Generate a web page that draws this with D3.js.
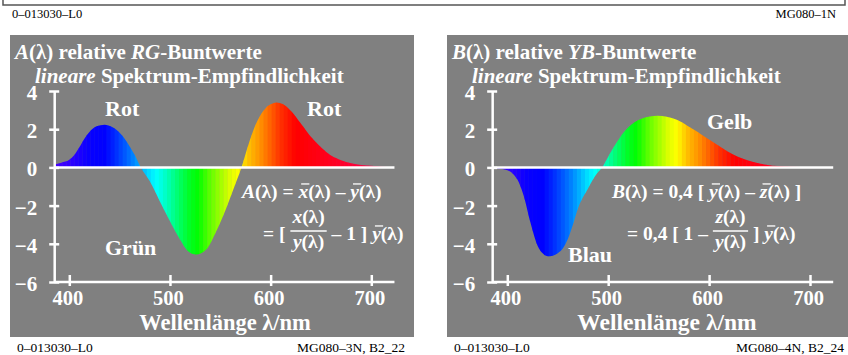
<!DOCTYPE html>
<html><head><meta charset="utf-8">
<script src="https://cdn.jsdelivr.net/npm/d3@7"></script>
<style>
html,body{margin:0;padding:0;background:#fff;}
svg{display:block;font-family:"Liberation Serif","Times New Roman",serif;}
text{white-space:pre;}
</style></head>
<body>
<script>
// ---------- data ----------
const lambdaA = [385,392,400,405,410,415,420,427,435,443,450,455,460,465,471,480,490,500,510,518,526,536,546,556,566,571,578,584,590,595,600,606,612,620,630,640,650,660,670,680,690,700,710,722];
const valuesA = [0.15,0.25,0.4,0.65,1.05,1.5,1.85,2.15,2.23,2.1,1.82,1.5,1.1,0.65,0,-0.72,-1.78,-2.82,-3.78,-4.39,-4.56,-4.3,-3.34,-2.12,-0.73,0,1.2,2.1,2.75,3.1,3.3,3.4,3.32,2.97,2.3,1.6,1.05,0.62,0.38,0.22,0.13,0.08,0.04,0.02];
const lambdaB = [385,395,400,405,410,416,423,430,435,440,445,450,455,460,465,470,480,489,494,502,509,516,523,530,540,549,558,568,578,588,598,608,618,628,638,648,658,668,680,700,722];
const valuesB = [-0.05,-0.08,-0.15,-0.3,-0.64,-1.45,-2.9,-4.1,-4.5,-4.65,-4.62,-4.5,-4.25,-3.75,-3.0,-2.15,-1.1,-0.3,0,0.75,1.35,1.88,2.25,2.48,2.65,2.7,2.65,2.49,2.2,1.88,1.52,1.18,0.85,0.57,0.37,0.23,0.13,0.07,0.03,0.01,0.0];
const spectrumLambda = [380,400,420,435,445,455,463,470,478,486,494,502,510,520,528,540,550,560,568,578,590,600,610,625,660,700,730];
const spectrumColor = ["#5000ff","#3000ff","#0800ff","#0000ff","#0028ff","#0058ff","#0080ff","#00a8ff","#00d8ff","#00ffff","#00ffd0","#00ff98","#00ff60","#00ff20","#00ff00","#60ff00","#a0ff00","#e0ff00","#ffff00","#ffc000","#ff9000","#ff6000","#ff3000","#ff0000","#ff0020","#ff0048","#ff0060"];
const xTicks = [400,500,600,700];
const yTicks = [-6,-4,-2,0,2,4];

const W = 848, H = 355;
const svg = d3.select("body").append("svg").attr("width", W).attr("height", H);
svg.append("rect").attr("width", W).attr("height", H).attr("fill", "#fff");

// top frame and header text
svg.append("path").attr("d", "M3,-2 V5 H845 V-2").attr("fill", "none").attr("stroke", "#555").attr("stroke-width", 1.5);
svg.append("text").attr("x", 12).attr("y", 18).attr("font-size", 12.5).text("0\u2013013030\u2013L0");
svg.append("text").attr("x", 836).attr("y", 18).attr("font-size", 12.5).attr("text-anchor", "end").text("MG080\u20131N");

const colorScale = d3.scaleLinear().domain(spectrumLambda).range(spectrumColor).interpolate(d3.interpolateRgb).clamp(true);

function rich(g, x, y, parts, fs) {
  let cx = x;
  parts.forEach(p => {
    const f = p.fs || fs;
    const t = g.append("text").attr("x", cx).attr("y", y + (p.dy || 0))
      .attr("xml:space", "preserve")
      .attr("font-size", f).attr("font-weight", p.nb ? "normal" : "bold")
      .attr("font-style", p.it ? "italic" : "normal").attr("fill", "#fff").text(p.t);
    const w = t.node().getComputedTextLength();
    if (p.bar) {
      g.append("line").attr("x1", cx + f * 0.14).attr("x2", cx + f * 0.14 + f * 0.42)
        .attr("y1", y - f * 0.72).attr("y2", y - f * 0.72).attr("stroke", "#fff").attr("stroke-width", 1.3);
    }
    cx += w;
  });
  return cx;
}
function fraction(g, x, yBase, num, den, fs) {
  const gn = g.append("g"), gd = g.append("g");
  const wn = rich(gn, 0, 0, num, fs), wd = rich(gd, 0, 0, den, fs);
  const w = Math.max(wn, wd) + 4;
  gn.attr("transform", `translate(${x + (w - wn) / 2},${yBase - 17})`);
  gd.attr("transform", `translate(${x + (w - wd) / 2},${yBase + 8})`);
  g.append("line").attr("x1", x).attr("x2", x + w).attr("y1", yBase - 9).attr("y2", yBase - 9)
    .attr("stroke", "#fff").attr("stroke-width", 1.6);
  return x + w;
}

function panel(cfg) {
  const g = svg.append("g");
  g.append("rect").attr("x", cfg.px).attr("y", 35).attr("width", 404).attr("height", 302).attr("fill", "#808080");
  const x = d3.scaleLinear().domain([400, 700]).range(cfg.xr);
  const y = d3.scaleLinear().domain([-6, 4]).range([282, 91]);
  const x0 = x(385), x1 = x(723);

  // stripes clipped by area
  const area = d3.area().x((d, i) => x(cfg.lambda[i])).y0(y(0)).y1(d => y(d)).curve(d3.curveMonotoneX);
  g.append("clipPath").attr("id", cfg.id).append("path").attr("d", area(cfg.values));
  const bands = d3.range(385, 723, 4);
  g.append("g").attr("clip-path", `url(#${cfg.id})`).selectAll("rect").data(bands).join("rect")
    .attr("x", d => x(d)).attr("width", d => x(d + 4) - x(d) + 0.4)
    .attr("y", y(4)).attr("height", y(-6) - y(4))
    .attr("fill", d => colorScale(d + 2));

  // zero line
  g.append("line").attr("x1", x0).attr("x2", x1).attr("y1", y(0)).attr("y2", y(0))
    .attr("stroke", "#fff").attr("stroke-width", 2.5);

  // axes
  const ya = g.append("g").attr("transform", `translate(${x0},0)`)
    .call(d3.axisLeft(y).tickValues(yTicks).tickSizeOuter(0).tickFormat(d3.format("d")));
  ya.select(".domain").attr("stroke", "#fff").attr("stroke-width", 2.5);
  ya.selectAll(".tick line").attr("x1", 5).attr("x2", -5).attr("stroke", "#fff").attr("stroke-width", 2.5);
  ya.selectAll(".tick text").attr("x", -17).attr("dy", "0.4em").attr("fill", "#fff")
    .attr("font-size", 21).attr("font-weight", "bold").attr("font-family", "Liberation Serif");

  const xa = g.append("g").attr("transform", `translate(0,${y(-6)})`)
    .call(d3.axisBottom(x).tickValues(xTicks).tickSizeOuter(0).tickFormat(d3.format("d")));
  xa.select(".domain").attr("d", `M${x0},0H${x1}`).attr("stroke", "#fff").attr("stroke-width", 2.5);
  xa.selectAll(".tick line").attr("y1", -7).attr("y2", 4).attr("stroke", "#fff").attr("stroke-width", 2.5);
  xa.selectAll(".tick text").attr("y", 22.5).attr("dy", 0).attr("x", -2).attr("fill", "#fff")
    .attr("font-size", 20.5).attr("font-weight", "bold").attr("font-family", "Liberation Serif");

  // titles
  rich(g, cfg.px + 5, 59, cfg.title1, 21);
  rich(g, cfg.px + 25, 83, cfg.title2, 21);
  g.append("text").attr("x", cfg.axisTitleX).attr("y", 330).attr("text-anchor", "middle")
    .attr("font-size", cfg.axisTitleFs).attr("font-weight", "bold").attr("fill", "#fff")
    .text("Wellenl\u00e4nge \u03bb/nm");
  cfg.labels.forEach(l => g.append("text").attr("x", l.x).attr("y", l.y).attr("font-size", 22)
    .attr("font-weight", "bold").attr("fill", "#fff").text(l.t));
  cfg.formula(g);

  // footer
  g.append("text").attr("x", cfg.px + 7).attr("y", 352).attr("font-size", 13.5).text("0\u2013013030\u2013L0");
  g.append("text").attr("x", cfg.footR).attr("y", 352).attr("font-size", 13.5).attr("text-anchor", "end").text(cfg.footer);
}

const FS = 19.5;
panel({
  id: "clipA", px: 10, xr: [69.3, 371.3], lambda: lambdaA, values: valuesA,
  title1: [{t: "A", it: true}, {t: "(\u03bb) relative "}, {t: "RG", it: true}, {t: "-Buntwerte"}],
  title2: [{t: "lineare", it: true}, {t: " Spektrum-Empfindlichkeit"}],
  axisTitleX: 225, axisTitleFs: 22.5,
  labels: [{t: "Rot", x: 105, y: 116}, {t: "Rot", x: 307, y: 116}, {t: "Gr\u00fcn", x: 105, y: 255}],
  footR: 405, footer: "MG080\u20133N, B2_22",
  formula: g => {
    rich(g, 242, 198, [{t: "A", it: true}, {t: "(\u03bb) = "}, {t: "x", it: true, bar: true}, {t: "(\u03bb) \u2013 "}, {t: "y", it: true, bar: true}, {t: "(\u03bb)"}], FS);
    let cx = rich(g, 263, 240, [{t: "="}, {t: " [ "}], FS);
    cx = fraction(g, cx, 240, [{t: "x", it: true}, {t: "(\u03bb)"}], [{t: "y", it: true}, {t: "(\u03bb)"}], FS);
    rich(g, cx, 240, [{t: " \u2013 1 ] "}, {t: "y", it: true, bar: true}, {t: "(\u03bb)"}], FS);
  }
});
panel({
  id: "clipB", px: 447, xr: [507.3, 810], lambda: lambdaB, values: valuesB,
  title1: [{t: "B", it: true}, {t: "(\u03bb) relative "}, {t: "YB", it: true}, {t: "-Buntwerte"}],
  title2: [{t: "lineare", it: true}, {t: " Spektrum-Empfindlichkeit"}],
  axisTitleX: 667, axisTitleFs: 23.5,
  labels: [{t: "Gelb", x: 707, y: 129}, {t: "Blau", x: 568, y: 262}],
  footR: 844, footer: "MG080\u20134N, B2_24",
  formula: g => {
    rich(g, 612, 198, [{t: "B", it: true}, {t: "(\u03bb) = 0,4 [ "}, {t: "y", it: true, bar: true}, {t: "(\u03bb) \u2013 "}, {t: "z", it: true, bar: true}, {t: "(\u03bb) ]"}], FS);
    let cx = rich(g, 627, 240, [{t: "="}, {t: " 0,4 [ 1 \u2013 "}], FS);
    cx = fraction(g, cx, 240, [{t: "z", it: true}, {t: "(\u03bb)"}], [{t: "y", it: true}, {t: "(\u03bb)"}], FS);
    rich(g, cx, 240, [{t: " ] "}, {t: "y", it: true, bar: true}, {t: "(\u03bb)"}], FS);
  }
});
</script>
</body></html>
